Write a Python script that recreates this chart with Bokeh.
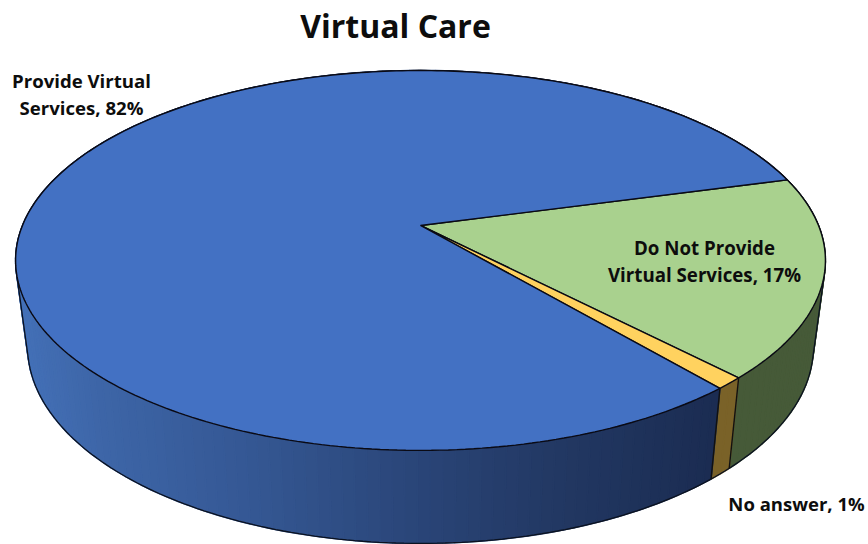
import numpy as np
from bokeh.plotting import figure
from bokeh.models import Range1d, ColumnDataSource
from bokeh.core.properties import value
from bokeh.embed import file_html
from bokeh.resources import INLINE

title = "Virtual Care"
categories = ["Do Not Provide Virtual Services", "No answer", "Provide Virtual Services"]
shares = [17, 1, 82]
top_colors = ["#A9D18E", "#FFD25F", "#4371C3"]
wall_colors = ["#465A38", "#7A6228", None]
start_angle = 15.1

W, H = 868, 544
CX, AY = 420.0, 225.0
PERSP, YS, XS = 0.184, 183.5, 398.0
TOP_CY, TOP_RY, TOP_RX = 260.0, 190.0, 405.0
BOT_CY, BOT_RY, BOT_RX = 346.0, 197.0, 393.0


def top_pt(deg):
    t = np.radians(deg)
    u, v = np.cos(t), -np.sin(t)
    d = 1 - PERSP * v
    return CX + XS * u / d, AY + YS * v / d


def bot_pt(deg):
    x, y = top_pt(deg)
    return CX + (x - CX) * BOT_RX / TOP_RX, BOT_CY + (y - TOP_CY) * BOT_RY / TOP_RY


def blue_wall(x):
    xs = [20, 100, 250, 420, 550, 720]
    r = np.interp(x, xs, [68, 62, 53, 42, 35, 27])
    g = np.interp(x, xs, [113, 102, 88, 69, 57, 44])
    b = np.interp(x, xs, [184, 168, 148, 120, 100, 82])
    return "#%02x%02x%02x" % (int(r), int(g), int(b))


def hull(points):
    pts = sorted(set(points))
    def half(seq):
        out = []
        for q in seq:
            while len(out) > 1 and ((out[-1][0] - out[-2][0]) * (q[1] - out[-2][1])
                                    - (out[-1][1] - out[-2][1]) * (q[0] - out[-2][0])) <= 0:
                out.pop()
            out.append(q)
        return out[:-1]
    return half(pts) + half(pts[::-1])


p = figure(width=W, height=H, output_backend="svg", toolbar_location=None,
           x_range=Range1d(0, W), y_range=Range1d(H, 0), min_border=0,
           outline_line_color=None)
p.axis.visible = False
p.grid.visible = False

edges = [start_angle]
for s in shares:
    edges.append(edges[-1] - s * 3.6)

# side wall
qx, qy, qc = [], [], []
for i, (a0, a1) in enumerate(zip(edges[:-1], edges[1:])):
    n = max(2, int(abs(a1 - a0) / 1.5))
    ts = np.linspace(a0, a1, n + 1)
    for t0, t1 in zip(ts[:-1], ts[1:]):
        x0, y0 = top_pt(t0); x1, y1 = top_pt(t1)
        x2, y2 = bot_pt(t1); x3, y3 = bot_pt(t0)
        qx.append([x0, x1, x2, x3]); qy.append([y0, y1, y2, y3])
        qc.append(wall_colors[i] or blue_wall((x0 + x1 + x2 + x3) / 4))
p.patches("x", "y", source=ColumnDataSource(dict(x=qx, y=qy, c=qc)),
          fill_color="c", line_color="c", line_width=1.6)

# outer silhouette of the drum and the wall dividers
ts = np.linspace(0, 360, 361)
h = hull([tuple(map(float, top_pt(t))) for t in ts] + [tuple(map(float, bot_pt(t))) for t in ts])
h.append(h[0])
p.line([q[0] for q in h], [q[1] for q in h], line_color="#0b1220", line_width=1.3)
for a in edges[1:3]:
    x0, y0 = top_pt(a)
    x1, y1 = bot_pt(a)
    p.line([x0, x1], [y0, y1], line_color="#111111", line_width=1.4)

# top face
for i, (a0, a1) in enumerate(zip(edges[:-1], edges[1:])):
    ts = np.linspace(a0, a1, max(3, int(abs(a1 - a0))) + 1)
    pts = [top_pt(t) for t in ts]
    xs = [CX] + [q[0] for q in pts]
    ys = [AY] + [q[1] for q in pts]
    p.patch(xs, ys, fill_color=top_colors[i], line_color="#0a0a14", line_width=1.4)


def label(lines, x, y, size, step=27):
    for k, s in enumerate(lines):
        p.text([x], [y + k * step], text=[s], text_font=value("Open Sans"),
               text_font_style="bold", text_font_size=size, text_color="#0d0d0d",
               text_align="center", text_baseline="middle")


label([title], 395, 25, "32px")
label(["Provide Virtual", f"Services, {shares[2]}%"], 81, 80, "18.6px")
label(["Do Not Provide", f"Virtual Services, {shares[0]}%"], 704, 247, "18.7px")
label([f"No answer, {shares[1]}%"], 796, 503, "18.5px")

open("out.html", "w").write(file_html(p, INLINE))
